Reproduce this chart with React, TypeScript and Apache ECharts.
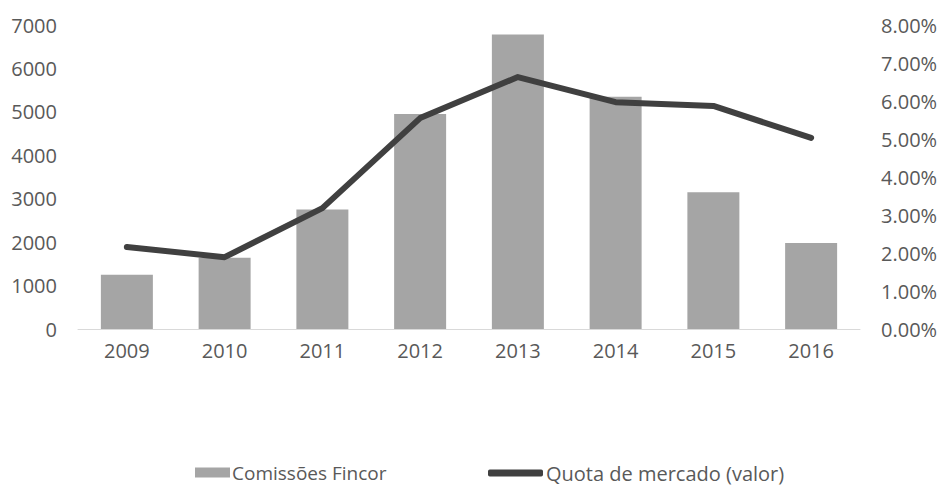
import React, { useEffect, useRef } from "react";
import * as echarts from "echarts";

const categories = ["2009", "2010", "2011", "2012", "2013", "2014", "2015", "2016"];
const comissoes = [1250, 1640, 2750, 4950, 6780, 5350, 3150, 1980];
const quota = [2.16, 1.89, 3.18, 5.55, 6.63, 5.97, 5.87, 5.03];
const barName = "Comissões Fincor";
const lineName = "Quota de mercado (valor)";

const FONT = "'Open Sans', sans-serif";
const TXT = "#595959";
const FS = 20;

export default function App() {
  const ref = useRef<HTMLDivElement>(null);
  useEffect(() => {
    if (!ref.current) return;
    const chart = echarts.init(ref.current, null, { renderer: "svg" });
    chart.setOption({
      animation: false,
      backgroundColor: "#ffffff",
      textStyle: { fontFamily: FONT, color: TXT },
      grid: { left: 78, right: 84, top: 25, bottom: 158, containLabel: false },
      legend: [
        {
          data: [{ name: barName, icon: "rect" }],
          left: 190,
          top: 458,
          itemWidth: 35,
          itemHeight: 10,
          textStyle: { fontFamily: FONT, fontSize: 19, color: TXT, padding: [0, 0, 0, -3] },
        },
        {
          data: [{ name: lineName, icon: "roundRect" }],
          left: 483,
          top: 458,
          itemWidth: 55,
          itemHeight: 7,
          textStyle: { fontFamily: FONT, fontSize: 20, color: TXT, padding: [0, 0, 0, -2] },
        },
      ],
      xAxis: {
        type: "category",
        data: categories,
        axisLine: { lineStyle: { color: "#d9d9d9", width: 1 } },
        axisTick: { show: false },
        axisLabel: { fontFamily: FONT, fontSize: FS, color: TXT, margin: 11 },
      },
      yAxis: [
        {
          type: "value",
          min: 0,
          max: 7000,
          interval: 1000,
          splitLine: { show: false },
          axisLine: { show: false },
          axisTick: { show: false },
          axisLabel: {
            fontFamily: FONT,
            fontSize: FS,
            color: TXT,
            margin: 21,
            formatter: (v: number) => String(v),
          },
        },
        {
          type: "value",
          min: 0,
          max: 8,
          interval: 1,
          position: "right",
          splitLine: { show: false },
          axisLine: { show: false },
          axisTick: { show: false },
          axisLabel: {
            fontFamily: FONT,
            fontSize: FS,
            color: TXT,
            margin: 21,
            formatter: (v: number) => v.toFixed(2) + "%",
          },
        },
      ],
      series: [
        {
          name: barName,
          type: "bar",
          data: comissoes,
          barWidth: 52,
          itemStyle: { color: "#a5a5a5" },
        },
        {
          name: lineName,
          type: "line",
          yAxisIndex: 1,
          data: quota,
          symbol: "none",
          lineStyle: { color: "#404040", width: 6, cap: "round", join: "round" },
          itemStyle: { color: "#404040" },
        },
      ],
    });
    return () => chart.dispose();
  }, []);
  return <div ref={ref} style={{ width: 944, height: 487, position: "absolute", left: 0, top: 0 }} />;
}
